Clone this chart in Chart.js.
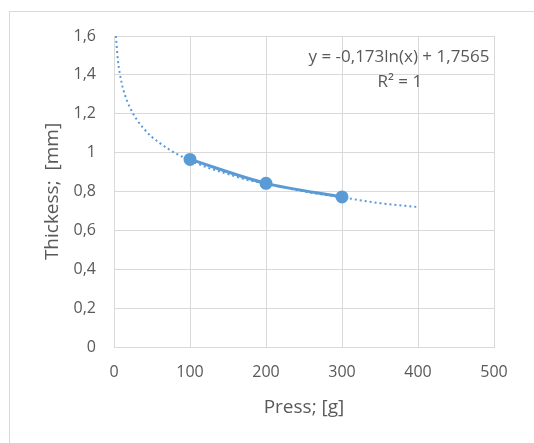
<!DOCTYPE html>
<html>
<head>
<meta charset="utf-8">
<script src="https://cdn.jsdelivr.net/npm/chart.js@4"></script>
<style>
  html, body { margin: 0; padding: 0; background: #fff; }
</style>
</head>
<body>
<canvas id="chart" width="534" height="443"></canvas>
<script>
// measured points
const pressValues = [100, 200, 300];
const thicknessValues = [0.965, 0.842, 0.772];

// logarithmic trendline
const trendX = [2.5, 5, 10, 15, 20, 30, 40, 50, 60, 75, 100, 125, 150, 175, 200, 250, 300, 350, 400];
const trendY = [1.60, 1.48, 1.36, 1.29, 1.24, 1.17, 1.12, 1.08, 1.05, 1.01, 0.96, 0.92, 0.89, 0.86, 0.84, 0.80, 0.77, 0.74, 0.72];

const xTickLabels = ["0", "100", "200", "300", "400", "500"];
const yTickLabels = ["0", "0,2", "0,4", "0,6", "0,8", "1", "1,2", "1,4", "1,6"];
const equationLines = ["y = -0,173ln(x) + 1,7565", "R\u00b2 = 1"];

const textColor = "#595959";
const gridColor = "#d9d9d9";
const lineColor = "#5b9bd5";
const fontFamily = "'Open Sans', 'Noto Sans', sans-serif";

const frame = {
  id: "frame",
  beforeDraw(chart) {
    const ctx = chart.ctx;
    ctx.save();
    ctx.fillStyle = "#fff";
    ctx.fillRect(0, 0, chart.width, chart.height);
    ctx.strokeStyle = gridColor;
    ctx.lineWidth = 1;
    ctx.strokeRect(9.5, 11.5, chart.width + 10, chart.height + 10);
    ctx.restore();
  }
};

const equation = {
  id: "equation",
  afterDatasetsDraw(chart) {
    const ctx = chart.ctx;
    const xs = chart.scales.x, ys = chart.scales.y;
    ctx.save();
    ctx.fillStyle = textColor;
    ctx.font = "17px " + fontFamily;
    ctx.textAlign = "center";
    ctx.textBaseline = "middle";
    ctx.fillText(equationLines[0], xs.getPixelForValue(375), ys.getPixelForValue(1.492));
    ctx.fillText(equationLines[1], xs.getPixelForValue(376), ys.getPixelForValue(1.365));
    ctx.restore();
  }
};

new Chart(document.getElementById("chart"), {
  type: "scatter",
  data: {
    datasets: [
      {
        label: "Thickess",
        data: pressValues.map((x, i) => ({ x: x, y: thicknessValues[i] })),
        showLine: true,
        borderColor: lineColor,
        backgroundColor: lineColor,
        borderWidth: 3,
        pointRadius: 5,
        pointHoverRadius: 5,
        tension: 0.3,
        order: 0
      },
      {
        label: "Log trend",
        data: trendX.map((x, i) => ({ x: x, y: trendY[i] })),
        showLine: true,
        borderColor: lineColor,
        borderWidth: 2,
        borderDash: [2, 3],
        pointRadius: 0,
        cubicInterpolationMode: "monotone",
        order: 1
      }
    ]
  },
  options: {
    responsive: false,
    animation: false,
    events: [],
    layout: { padding: { left: 32, right: 40, top: 36, bottom: 20 } },
    plugins: {
      legend: { display: false },
      tooltip: { enabled: false }
    },
    scales: {
      x: {
        type: "linear",
        min: 0,
        max: 500,
        afterFit: (s) => { s.height = 76; },
        ticks: {
          stepSize: 100,
          color: textColor,
          font: { family: fontFamily, size: 16 },
          padding: 16,
          callback: (v, i) => xTickLabels[i]
        },
        grid: { color: gridColor, drawTicks: false },
        border: { color: gridColor },
        title: {
          display: true,
          text: "Press; [g]",
          color: textColor,
          font: { family: fontFamily, size: 19 },
          padding: { top: 0, bottom: 4 }
        }
      },
      y: {
        min: 0,
        max: 1.6,
        afterFit: (s) => { s.width = 82; },
        ticks: {
          stepSize: 0.2,
          color: textColor,
          font: { family: fontFamily, size: 16 },
          padding: 18,
          callback: (v, i) => yTickLabels[i]
        },
        grid: { color: gridColor, drawTicks: false },
        border: { color: gridColor },
        title: {
          display: true,
          text: "Thickess;  [mm]",
          color: textColor,
          font: { family: fontFamily, size: 19 },
          padding: { top: 9, bottom: 0 }
        }
      }
    }
  },
  plugins: [frame, equation]
});
</script>
</body>
</html>
